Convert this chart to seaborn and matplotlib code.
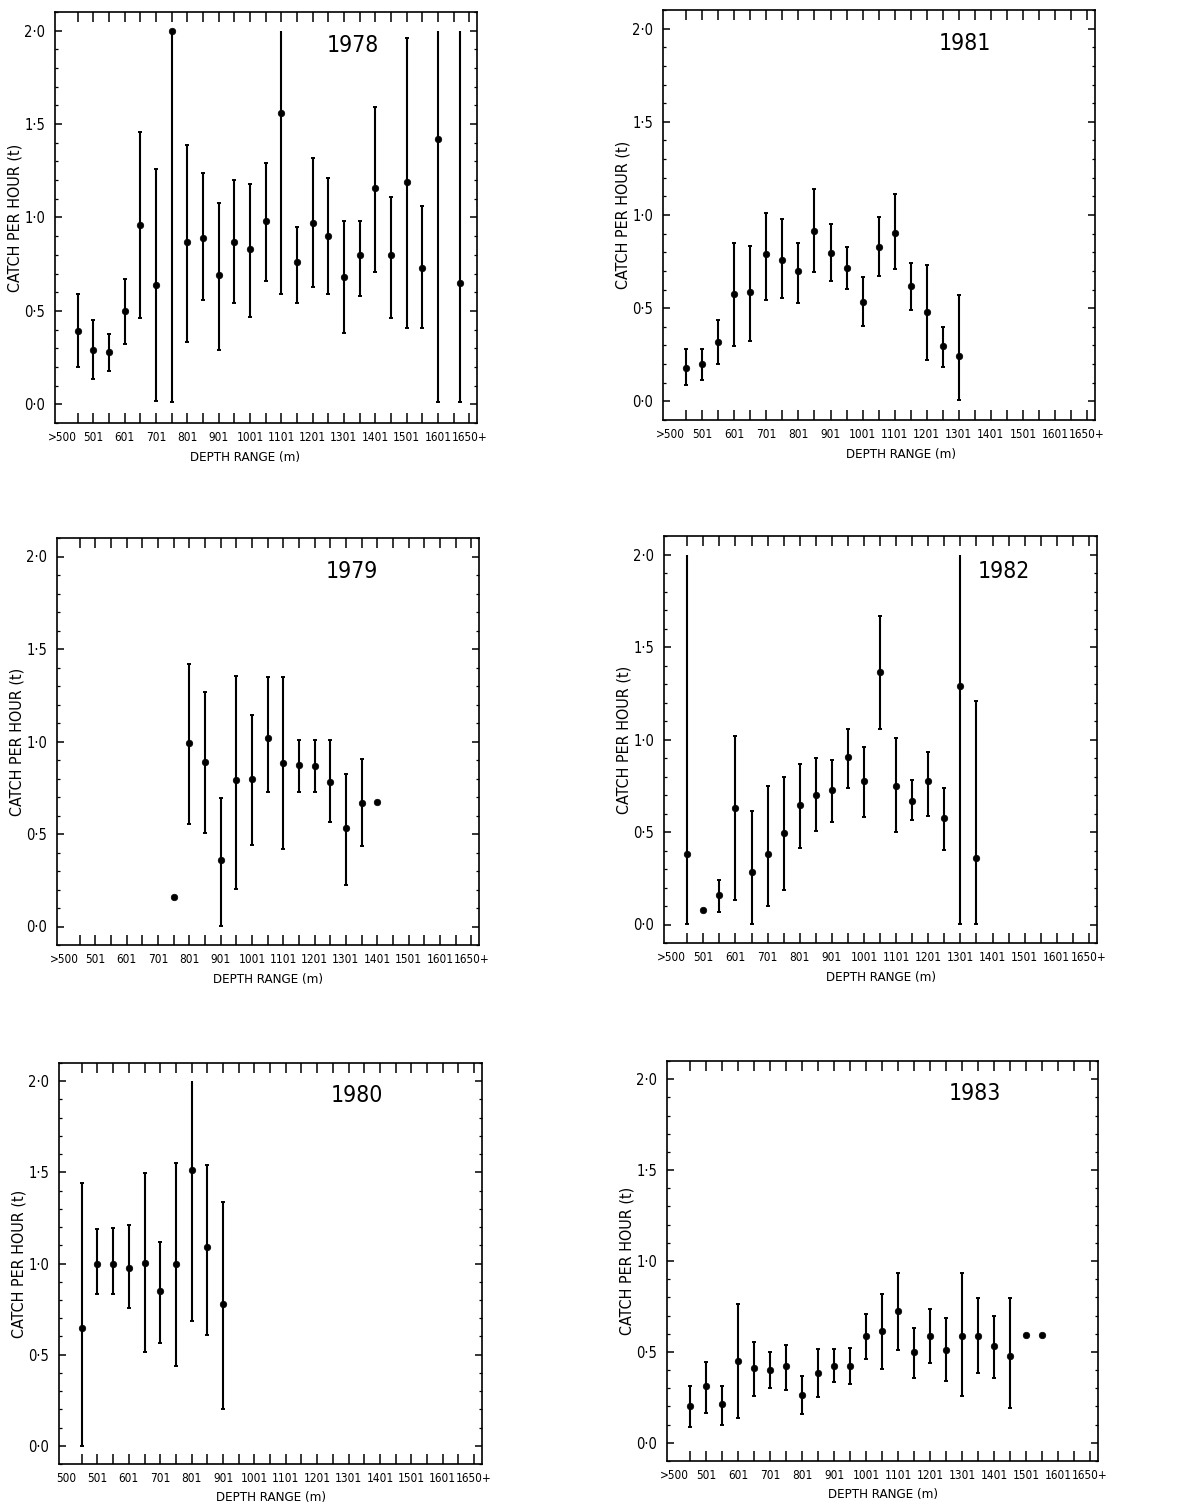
import matplotlib
matplotlib.use("Agg")
import matplotlib.pyplot as plt
import seaborn as sns
import numpy as np
import pandas as pd
from matplotlib.ticker import FixedLocator, MultipleLocator, FuncFormatter

nan = np.nan

# ---------------- data ----------------
x_labels = [">500", "501", "601", "701", "801", "901", "1001", "1101",
            "1201", "1301", "1401", "1501", "1601", "1650+"]
x_labels_1980 = ["500", "501", "601", "701", "801", "901", "1001", "1101",
                 "1201", "1301", "1401", "1501", "1601", "1650+"]

pos_1978 = [1, 2, 3, 4, 5, 6, 7, 8, 9, 10, 11, 12, 13, 14, 15, 16, 17, 18, 19, 20, 21, 22, 23, 24, 25.4]
cph_1978 = [0.39, 0.29, 0.28, 0.50, 0.96, 0.64, 2.00, 0.87, 0.89, 0.69, 0.87, 0.83, 0.98,
            1.56, 0.76, 0.97, 0.90, 0.68, 0.80, 1.16, 0.80, 1.19, 0.73, 1.42, 0.65]
hi_1978 = [0.59, 0.45, 0.375, 0.67, 1.46, 1.26, 2.00, 1.39, 1.24, 1.08, 1.20, 1.18, 1.29,
           2.00, 0.95, 1.32, 1.21, 0.98, 0.98, 1.59, 1.11, 1.96, 1.06, 2.00, 2.00]
lo_1978 = [0.20, 0.135, 0.18, 0.325, 0.46, 0.02, 0.01, 0.335, 0.56, 0.29, 0.54, 0.47, 0.66,
           0.59, 0.54, 0.63, 0.59, 0.38, 0.58, 0.71, 0.46, 0.41, 0.41, 0.01, 0.01]

pos_1981 = [1, 2, 3, 4, 5, 6, 7, 8, 9, 10, 11, 12, 13, 14, 15, 16, 17, 18]
cph_1981 = [0.18, 0.20, 0.32, 0.575, 0.585, 0.79, 0.76, 0.70, 0.915, 0.795, 0.715, 0.535,
            0.83, 0.905, 0.62, 0.48, 0.295, 0.245]
hi_1981 = [0.28, 0.28, 0.435, 0.85, 0.835, 1.01, 0.98, 0.85, 1.14, 0.95, 0.83, 0.665,
           0.99, 1.11, 0.745, 0.73, 0.40, 0.57]
lo_1981 = [0.09, 0.115, 0.20, 0.295, 0.325, 0.545, 0.555, 0.53, 0.695, 0.645, 0.605, 0.405,
           0.675, 0.71, 0.49, 0.22, 0.185, 0.005]

pos_1979 = [7, 8, 9, 10, 11, 12, 13, 14, 15, 16, 17, 18, 19, 20]
cph_1979 = [0.16, 0.99, 0.89, 0.36, 0.79, 0.80, 1.02, 0.885, 0.875, 0.87, 0.78, 0.53, 0.67, 0.675]
hi_1979 = [nan, 1.42, 1.27, 0.695, 1.355, 1.145, 1.35, 1.35, 1.01, 1.01, 1.01, 0.825, 0.905, nan]
lo_1979 = [nan, 0.555, 0.505, 0.005, 0.205, 0.44, 0.725, 0.42, 0.725, 0.725, 0.565, 0.225, 0.435, nan]

pos_1982 = [1, 2, 3, 4, 5, 6, 7, 8, 9, 10, 11, 12, 13, 14, 15, 16, 17, 18, 19]
cph_1982 = [0.38, 0.08, 0.16, 0.63, 0.285, 0.38, 0.495, 0.645, 0.70, 0.725, 0.905, 0.775,
            1.365, 0.75, 0.67, 0.775, 0.575, 1.29, 0.36]
hi_1982 = [2.00, nan, 0.24, 1.02, 0.615, 0.75, 0.80, 0.87, 0.90, 0.89, 1.055, 0.96,
           1.665, 1.01, 0.78, 0.93, 0.74, 2.00, 1.21]
lo_1982 = [0.005, nan, 0.065, 0.135, 0.005, 0.10, 0.185, 0.415, 0.505, 0.555, 0.74, 0.58,
           1.055, 0.50, 0.565, 0.585, 0.405, 0.005, 0.005]

pos_1980 = [1, 2, 3, 4, 5, 6, 7, 8, 9, 10]
cph_1980 = [0.645, 1.00, 0.995, 0.975, 1.005, 0.85, 0.995, 1.515, 1.09, 0.78]
hi_1980 = [1.44, 1.19, 1.195, 1.21, 1.495, 1.12, 1.55, 2.00, 1.54, 1.34]
lo_1980 = [0.0, 0.835, 0.83, 0.755, 0.515, 0.565, 0.435, 0.685, 0.61, 0.20]

pos_1983 = [1, 2, 3, 4, 5, 6, 7, 8, 9, 10, 11, 12, 13, 14, 15, 16, 17, 18, 19, 20, 21, 22, 23]
cph_1983 = [0.205, 0.31, 0.215, 0.45, 0.41, 0.40, 0.42, 0.265, 0.385, 0.425, 0.425, 0.585,
            0.615, 0.725, 0.50, 0.59, 0.51, 0.59, 0.59, 0.53, 0.48, 0.595, 0.595]
hi_1983 = [0.315, 0.445, 0.31, 0.765, 0.555, 0.50, 0.54, 0.37, 0.515, 0.515, 0.52, 0.71,
           0.82, 0.935, 0.63, 0.735, 0.685, 0.935, 0.795, 0.70, 0.795, nan, nan]
lo_1983 = [0.085, 0.165, 0.10, 0.135, 0.26, 0.30, 0.29, 0.16, 0.25, 0.335, 0.325, 0.46,
           0.405, 0.51, 0.355, 0.44, 0.34, 0.255, 0.385, 0.355, 0.19, nan, nan]

panels = [
    ("1978", pos_1978, cph_1978, hi_1978, lo_1978, x_labels),
    ("1981", pos_1981, cph_1981, hi_1981, lo_1981, x_labels),
    ("1979", pos_1979, cph_1979, hi_1979, lo_1979, x_labels),
    ("1982", pos_1982, cph_1982, hi_1982, lo_1982, x_labels),
    ("1980", pos_1980, cph_1980, hi_1980, lo_1980, x_labels_1980),
    ("1983", pos_1983, cph_1983, hi_1983, lo_1983, x_labels),
]

# ---------------- layout (pixels: left, right, top, bottom) ----------------
W, H = 1177, 1510
boxes = {
    "1978": (55, 477, 12, 423),
    "1981": (663, 1095, 10, 420),
    "1979": (57, 479, 538, 945),
    "1982": (664, 1097, 536, 943),
    "1980": (59, 482, 1063, 1464),
    "1983": (667, 1098, 1061, 1461),
}
year_xy = {
    "1978": (18.6, 1.92), "1981": (18.4, 1.92), "1979": (18.4, 1.92),
    "1982": (20.7, 1.91), "1980": (18.5, 1.92), "1983": (18.8, 1.92),
}
xlabel_x = {"1978": 0.45, "1981": 0.55, "1979": 0.50, "1982": 0.50, "1980": 0.50, "1983": 0.50}

sns.set_theme(style="ticks")
plt.rcParams["font.family"] = ["DejaVu Sans"]
plt.rcParams["font.stretch"] = "condensed"
plt.rcParams["axes.linewidth"] = 1.2
for key in ["text.color", "axes.labelcolor", "xtick.color", "ytick.color", "axes.edgecolor"]:
    plt.rcParams[key] = "black"

fig = plt.figure(figsize=(W / 100, H / 100), dpi=100)
fig.patch.set_facecolor("white")

dotfmt = FuncFormatter(lambda v, _: f"{v:.1f}".replace(".", "\u00b7"))

for year, pos, cph, hi, lo, labels in panels:
    l, r, t, b = boxes[year]
    ax = fig.add_axes([l / W, 1 - b / H, (r - l) / W, (b - t) / H])
    ax.set_facecolor("white")
    df = pd.DataFrame({"depth": pos, "cph": cph, "hi": hi, "lo": lo})

    # error bars
    bars = df.dropna(subset=["hi", "lo"])
    ax.vlines(bars["depth"], bars["lo"], bars["hi"], color="black", lw=1.5, zorder=2)
    caps_hi = bars[bars["hi"] < 1.99]
    ax.plot(caps_hi["depth"], caps_hi["hi"], ls="none", marker="_", ms=3.5, mew=1.4,
            color="black", zorder=2)
    ax.plot(bars["depth"], bars["lo"], ls="none", marker="_", ms=3.5, mew=1.4,
            color="black", zorder=2)

    # points
    sns.scatterplot(data=df, x="depth", y="cph", ax=ax, color="black", s=22,
                    edgecolor="black", linewidth=0.5, zorder=3, legend=False)

    ax.set_xlim(-0.45, 26.5)
    ax.set_ylim(-0.1, 2.1)

    # x ticks: labels every 100 m, marks every 50 m
    ax.xaxis.remove_overlapping_locs = False
    ax.set_xticks(np.arange(0, 27, 2))
    ax.set_xticklabels(labels)
    ax.xaxis.set_minor_locator(FixedLocator(np.arange(1, 27)))
    ax.tick_params(axis="x", which="major", length=0, pad=6, labelsize=8.5,
                   top=False, bottom=True)
    ax.tick_params(axis="x", which="minor", length=7, width=1.1, direction="in",
                   top=True, bottom=True)

    # y ticks
    ax.yaxis.set_major_locator(MultipleLocator(0.5))
    ax.yaxis.set_minor_locator(MultipleLocator(0.1))
    ax.yaxis.set_major_formatter(dotfmt)
    ax.tick_params(axis="y", which="major", length=5, width=1.1, direction="in",
                   left=True, right=True, labelsize=10.5, pad=7)
    ax.tick_params(axis="y", which="minor", length=2.5, width=0.9, direction="in",
                   left=True, right=True)

    for sp in ax.spines.values():
        sp.set_visible(True)
        sp.set_color("black")
        sp.set_linewidth(1.2)

    ax.set_xlabel("DEPTH RANGE (m)", fontsize=9.5)
    ax.set_ylabel("CATCH PER HOUR (t)", fontsize=11.5)
    ax.xaxis.set_label_coords(xlabel_x[year], -0.068)
    ax.yaxis.set_label_coords(-0.076, 0.5)

    yx, yy = year_xy[year]
    ax.text(yx, yy, year, fontsize=16.5, ha="center", va="center", color="black")

fig.savefig("out.png", dpi=100, facecolor="white")
